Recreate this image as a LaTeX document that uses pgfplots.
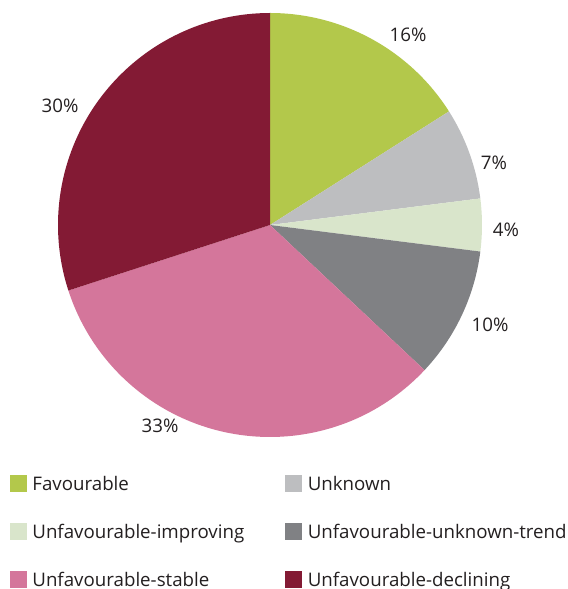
\documentclass[border=0pt]{standalone}
\usepackage{pgfplots}
\pgfplotsset{compat=1.18}
\usepackage{fontspec}
\setmainfont{Open Sans}
\definecolor{cFav}{HTML}{B3C84B}
\definecolor{cUnk}{HTML}{BDBEC0}
\definecolor{cImp}{HTML}{D9E5CB}
\definecolor{cTrend}{HTML}{808184}
\definecolor{cStab}{HTML}{D4769B}
\definecolor{cDecl}{HTML}{831A34}
\definecolor{txt}{HTML}{231F20}
\begin{document}
\fontsize{18.7bp}{22bp}\selectfont
\color{txt}
\begin{tikzpicture}
\useasboundingbox (0,0) rectangle (568bp,589bp);
\begin{axis}[
  at={(0,0)}, anchor=south west,
  scale only axis, width=568bp, height=589bp,
  xmin=0, xmax=568, ymin=0, ymax=589,
  hide axis, clip=false,
  legend columns=2,
  legend image code/.code={\fill[#1] (0bp,-1bp) rectangle (16bp,15bp);},
  legend style={at={(axis cs:10,114)}, anchor=north west,
    draw=none, fill=none, inner sep=0pt, outer sep=0pt,
    column sep=6bp, row sep=29bp,
    cells={anchor=base west},
    nodes={inner sep=0pt, text height=15bp, text depth=4bp}},
]
\addlegendimage{cFav}
\addlegendentry{\makebox[247bp][l]{Favourable}}
\addlegendimage{cUnk}
\addlegendentry{Unknown}
\addlegendimage{cImp}
\addlegendentry{\makebox[247bp][l]{Unfavourable-improving}}
\addlegendimage{cTrend}
\addlegendentry{Unfavourable-unknown-trend}
\addlegendimage{cStab}
\addlegendentry{\makebox[247bp][l]{Unfavourable-stable}}
\addlegendimage{cDecl}
\addlegendentry{Unfavourable-declining}

\foreach \v/\c [remember=\e as \s (initially 0)] in {16/cFav,7/cUnk,4/cImp,10/cTrend,33/cStab,30/cDecl} {
  \pgfmathsetmacro\e{\s+\v}
  \pgfmathsetmacro\a{90-3.6*\s}
  \pgfmathsetmacro\b{90-3.6*\e}
  \edef\temp{\noexpand\fill[\c] (axis cs:270,364) -- ++(\a:212bp) arc[start angle=\a, end angle=\b, radius=212bp] -- cycle;}
  \temp
}

\node at (axis cs:408,554) {16\%};
\node at (axis cs:494,426) {7\%};
\node at (axis cs:506,359) {4\%};
\node at (axis cs:490,264) {10\%};
\node at (axis cs:160,163) {33\%};
\node at (axis cs:60,483) {30\%};
\end{axis}
\end{tikzpicture}
\end{document}
